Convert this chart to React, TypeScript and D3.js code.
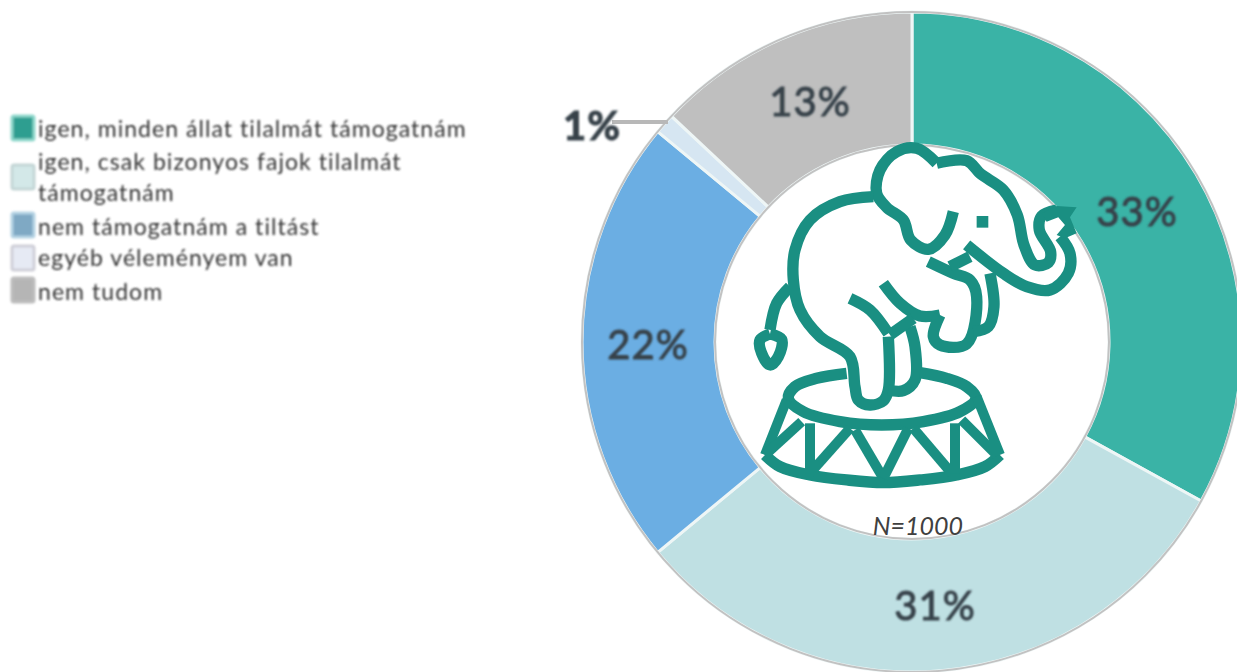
import React from "react";
import * as d3 from "d3";

const categories = [
  "igen, minden állat tilalmát támogatnám",
  "igen, csak bizonyos fajok tilalmát támogatnám",
  "nem támogatnám a tiltást",
  "egyéb véleményem van",
  "nem tudom",
];
const values = [33, 31, 22, 1, 13];
const colors = ["#3ab3a6", "#bfe0e3", "#6baee3", "#d6e6f2", "#bfbfbf"];
const swatchInner = ["#2f9e90", "#d3e8e8", "#7fa9c4", "#e6eaf4", "#b5b5b5"];
const swatchEdge = ["#8fd8cc", "#c4d6d6", "#b5d3e4", "#cfcfd8", "#bdbdbd"];

const legendLines = [
  ["igen, minden állat tilalmát támogatnám"],
  ["igen, csak bizonyos fajok tilalmát", "támogatnám"],
  ["nem támogatnám a tiltást"],
  ["egyéb véleményem van"],
  ["nem tudom"],
];
const legendSwatchY = [116, 165, 213, 246, 278];
const legendTextY = [[137], [170, 201], [235], [266], [300]];

const labelPos: [number, number][] = [
  [1137, 226],
  [935, 620],
  [648, 359],
  [592, 140],
  [810, 116],
];

// elephant outline (in 3x crop units)
const iconPaths: [number, number][][] = [
  [[640, 245], [615, 315], [565, 358], [512, 330], [490, 270], [440, 232], [410, 190], [420, 120], [470, 65], [530, 55], [590, 100]],
  [[590, 100], [680, 92], [722, 132], [790, 180], [832, 255], [852, 345], [885, 405], [925, 398], [932, 365], [898, 300], [905, 258], [950, 240]],
  [[680, 345], [790, 430], [860, 470], [930, 480], [985, 430], [990, 370], [960, 320]],
  [[400, 200], [300, 215], [210, 270], [165, 360], [160, 450], [180, 540], [240, 620], [330, 680], [345, 770], [355, 810], [390, 825], [430, 812], [445, 780], [445, 620]],
  [[330, 505], [390, 540], [445, 610]],
  [[445, 780], [490, 782], [525, 750], [525, 650], [510, 590]],
  [[430, 460], [480, 520], [540, 558], [600, 555]],
  [[450, 615], [520, 565]],
  [[600, 555], [580, 620], [600, 645], [680, 642], [710, 500], [690, 450], [640, 430], [565, 395]],
  [[630, 410], [690, 380]],
  [[750, 430], [762, 530], [745, 590], [700, 605]],
  [[150, 470], [110, 520], [90, 600]],
  [[90, 612], [125, 628], [115, 680], [90, 705], [65, 670], [60, 630], [90, 612]],
  [[320, 730], [230, 745], [165, 770], [145, 805], [190, 845], [300, 875], [425, 885], [550, 875], [660, 845], [708, 805], [680, 770], [620, 745], [540, 728]],
  [[75, 975], [120, 1010], [210, 1035], [320, 1050], [430, 1058], [540, 1050], [650, 1035], [735, 1010], [780, 975]],
];
const iconLines: [number, number][][] = [
  [[140, 810], [75, 975]],
  [[710, 800], [780, 975]],
  [[75, 975], [185, 875]],
  [[210, 880], [210, 1030]],
  [[210, 1030], [330, 895]],
  [[345, 900], [430, 1045]],
  [[430, 1045], [505, 895]],
  [[520, 895], [635, 1030]],
  [[645, 880], [645, 1030]],
  [[665, 870], [770, 975]],
];
const trunkTip: [number, number][] = [[905, 250], [950, 228], [1010, 232], [990, 262], [1010, 310], [975, 325], [950, 315], [975, 285], [955, 262], [920, 275]];

const uiFont = "Lato, 'Open Sans', sans-serif";

export default function App() {
  const cx = 912;
  const cy = 342;
  const outer = 330;
  const inner = 197;

  const pie = d3.pie<number>().sort(null);
  const arc = d3.arc<d3.PieArcDatum<number>>().innerRadius(inner).outerRadius(outer);
  const slices = pie(values);

  const curved = d3.line().curve(d3.curveCatmullRom.alpha(0.5));
  const straight = d3.line();

  return (
    <svg
      width={1237}
      height={672}
      style={{ position: "absolute", left: 0, top: 0, display: "block" }}
      fontFamily={uiFont}
    >
      <defs>
        <filter id="soft" x="-5%" y="-20%" width="110%" height="140%">
          <feGaussianBlur stdDeviation="0.8" />
        </filter>
      </defs>

      <g transform={`translate(${cx},${cy})`}>
        {slices.map((s, i) => (
          <path key={i} d={arc(s) ?? ""} fill={colors[i]} stroke="#eef6f6" strokeWidth={3} />
        ))}
        <circle r={outer} fill="none" stroke="#c2c2c2" strokeWidth={2} />
        <circle r={inner} fill="none" stroke="#c2c2c2" strokeWidth={2} />
      </g>

      <line x1={612} y1={122} x2={668} y2={122} stroke="#b8b8b8" strokeWidth={4} />

      <g filter="url(#soft)">
        {values.map((v, i) => (
          <text
            key={i}
            x={labelPos[i][0]}
            y={labelPos[i][1]}
            textAnchor="middle"
            fontSize={i === 3 ? 40 : 40}
            fontWeight={i === 3 ? 700 : 400}
            letterSpacing={1}
            fill="#37424a"
            stroke="#37424a"
            strokeWidth={1}
          >
            {v}%
          </text>
        ))}
      </g>

      <g transform="translate(740,130) scale(0.3333)" fill="none" stroke="#1a8f82" strokeWidth={34} strokeLinejoin="round" strokeLinecap="butt">
        {iconPaths.map((p, i) => (
          <path key={i} d={curved(p) ?? ""} />
        ))}
        {iconLines.map((p, i) => (
          <path key={i} d={straight(p) ?? ""} strokeWidth={30} />
        ))}
        <path d={straight(trunkTip) + "Z"} fill="#1a8f82" stroke="none" />
        <rect x={710} y={258} width={35} height={35} fill="#1a8f82" stroke="none" />
      </g>

      <text x={918} y={535} textAnchor="middle" fontSize={25} fontStyle="italic" fill="#404040">
        N=1000
      </text>

      <g filter="url(#soft)">
        {categories.map((c, i) => (
          <g key={c}>
            <rect
              x={12}
              y={legendSwatchY[i]}
              width={22}
              height={24}
              rx={2}
              fill={swatchInner[i]}
              stroke={swatchEdge[i]}
              strokeWidth={3}
            />
            {legendLines[i].map((line, j) => (
              <text
                key={j}
                x={38}
                y={legendTextY[i][j]}
                fontSize={23}
                letterSpacing={1.05}
                fill="#333333"
              >
                {line}
              </text>
            ))}
          </g>
        ))}
      </g>
    </svg>
  );
}
